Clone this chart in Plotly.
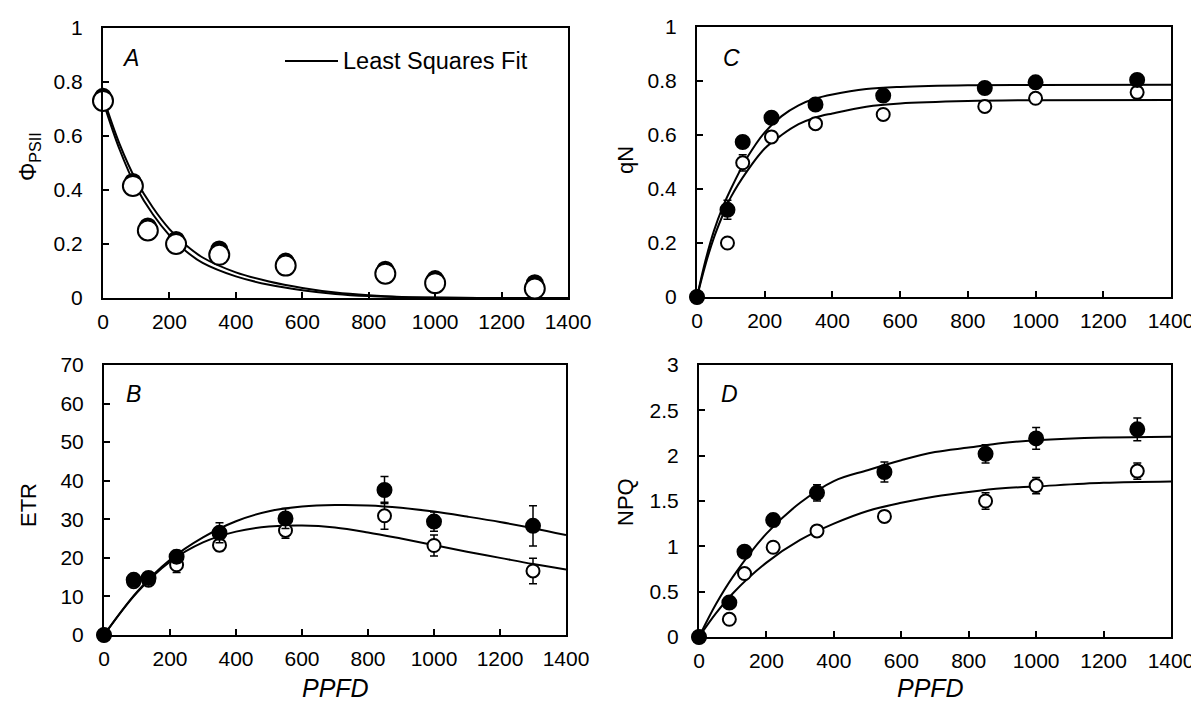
import plotly.graph_objects as go

# ---------------- data ----------------
ppfd = [0, 90, 135, 220, 350, 550, 850, 1000, 1300]

# Panel A: PhiPSII
phi_filled = [0.745, 0.43, 0.265, 0.215, 0.18, 0.135, 0.105, 0.07, 0.055]
phi_open = [0.73, 0.415, 0.25, 0.20, 0.16, 0.12, 0.09, 0.055, 0.035]
fit_x = [0, 50, 100, 150, 200, 250, 300, 400, 500, 600, 700, 800, 900, 1000, 1200, 1400]
phi_fit_filled = [0.745, 0.57, 0.435, 0.335, 0.255, 0.195, 0.15, 0.095, 0.061, 0.037, 0.020, 0.010, 0.004, 0.0015, 0.0, 0.0]
phi_fit_open = [0.73, 0.55, 0.41, 0.31, 0.232, 0.173, 0.13, 0.080, 0.049, 0.029, 0.015, 0.007, 0.003, 0.001, 0.0, 0.0]

# Panel B: ETR
etr_filled = [0, 14.3, 14.8, 20.3, 26.5, 30.2, 37.6, 29.4, 28.3]
etr_filled_err = [0, 1.0, 1.0, 1.6, 2.6, 2.6, 3.5, 2.5, 5.2]
etr_open = [0, 13.8, 14.2, 18.2, 23.3, 27.1, 30.9, 23.2, 16.6]
etr_open_err = [0, 1.0, 1.0, 2.0, 1.5, 2.0, 3.5, 2.7, 3.3]
fit_x2 = [0, 100, 200, 300, 400, 500, 600, 700, 800, 900, 1000, 1100, 1200, 1300, 1400]
etr_fit_filled = [0, 11.2, 19.5, 25.3, 29.5, 32.1, 33.3, 33.7, 33.6, 33.0, 32.0, 30.7, 29.3, 27.7, 25.9]
etr_fit_open = [0, 11.0, 19.0, 24.0, 26.8, 28.1, 28.4, 27.9, 26.6, 25.0, 23.3, 21.6, 20.0, 18.4, 17.0]

# Panel C: qN
qn_filled = [0, 0.323, 0.574, 0.664, 0.713, 0.746, 0.774, 0.795, 0.804]
qn_filled_err = [0, 0.035, 0.02, 0.02, 0.02, 0.02, 0.015, 0.015, 0.015]
qn_open = [0, 0.20, 0.497, 0.593, 0.642, 0.676, 0.706, 0.736, 0.758]
qn_open_err = [0, 0.015, 0.03, 0.02, 0.015, 0.02, 0.015, 0.015, 0.02]
fit_x3 = [0, 25, 50, 75, 100, 150, 200, 250, 300, 350, 400, 500, 600, 800, 1000, 1400]
qn_fit_filled = [0, 0.135, 0.245, 0.33, 0.40, 0.52, 0.61, 0.67, 0.71, 0.735, 0.75, 0.77, 0.778, 0.784, 0.785, 0.786]
qn_fit_open = [0, 0.12, 0.22, 0.30, 0.37, 0.47, 0.55, 0.60, 0.64, 0.665, 0.68, 0.705, 0.717, 0.726, 0.729, 0.73]

# Panel D: NPQ
npq_filled = [0, 0.38, 0.94, 1.29, 1.59, 1.82, 2.02, 2.19, 2.29]
npq_filled_err = [0, 0.05, 0.05, 0.07, 0.09, 0.11, 0.10, 0.12, 0.125]
npq_open = [0, 0.195, 0.70, 0.99, 1.17, 1.33, 1.50, 1.67, 1.83]
npq_open_err = [0, 0.03, 0.04, 0.05, 0.05, 0.06, 0.09, 0.09, 0.09]
fit_x4 = [0, 50, 100, 200, 300, 400, 500, 600, 700, 800, 900, 1000, 1200, 1400]
npq_fit_filled = [0, 0.36, 0.66, 1.14, 1.48, 1.72, 1.84, 1.95, 2.04, 2.09, 2.14, 2.17, 2.20, 2.21]
npq_fit_open = [0, 0.26, 0.48, 0.82, 1.07, 1.25, 1.39, 1.48, 1.55, 1.60, 1.64, 1.66, 1.70, 1.715]

# ---------------- figure ----------------
fig = go.Figure()
OFF = 8                      # page body margin in the browser
W, H = 1199 - OFF, 704 - OFF  # figure size so it fits the window

def line_trace(x, y, xa, ya):
    return go.Scatter(x=x, y=y, mode="lines", line=dict(color="black", width=2, shape="spline"),
                      xaxis=xa, yaxis=ya, showlegend=False, hoverinfo="skip", cliponaxis=False)

def pts(x, y, err, filled, size, xa, ya):
    m = dict(size=size, color="black" if filled else "white",
             line=dict(color="black", width=2))
    t = go.Scatter(x=x, y=y, mode="markers", marker=m, xaxis=xa, yaxis=ya,
                   showlegend=False, cliponaxis=False)
    if err is not None:
        t.error_y = dict(type="data", array=err, visible=True, color="black", thickness=1.5, width=4)
    return t

# Panel A (x, y)
fig.add_trace(line_trace(fit_x, phi_fit_filled, "x", "y"))
fig.add_trace(line_trace(fit_x, phi_fit_open, "x", "y"))
fig.add_trace(pts(ppfd, phi_filled, None, True, 16, "x", "y"))
fig.add_trace(pts(ppfd, phi_open, None, False, 20, "x", "y"))

# Panel B (x2, y2)
fig.add_trace(line_trace(fit_x2, etr_fit_filled, "x2", "y2"))
fig.add_trace(line_trace(fit_x2, etr_fit_open, "x2", "y2"))
fig.add_trace(pts(ppfd, etr_open, etr_open_err, False, 13, "x2", "y2"))
fig.add_trace(pts(ppfd, etr_filled, etr_filled_err, True, 14, "x2", "y2"))

# Panel C (x3, y3)
fig.add_trace(line_trace(fit_x3, qn_fit_filled, "x3", "y3"))
fig.add_trace(line_trace(fit_x3, qn_fit_open, "x3", "y3"))
fig.add_trace(pts(ppfd, qn_open, qn_open_err, False, 13, "x3", "y3"))
fig.add_trace(pts(ppfd, qn_filled, qn_filled_err, True, 14, "x3", "y3"))

# Panel D (x4, y4)
fig.add_trace(line_trace(fit_x4, npq_fit_filled, "x4", "y4"))
fig.add_trace(line_trace(fit_x4, npq_fit_open, "x4", "y4"))
fig.add_trace(pts(ppfd, npq_open, npq_open_err, False, 13, "x4", "y4"))
fig.add_trace(pts(ppfd, npq_filled, npq_filled_err, True, 14, "x4", "y4"))

FONT = "Liberation Sans, Arial, sans-serif"
TICKSIZE = 21

def xax(domain, anchor):
    return dict(domain=domain, anchor=anchor, range=[0, 1400], dtick=200, tick0=0,
                showline=True, mirror=True, linecolor="black", linewidth=2,
                ticks="inside", ticklen=6, tickwidth=1.5, tickcolor="black",
                showgrid=False, zeroline=False, ticklabelstandoff=4, automargin=False,
                tickfont=dict(size=TICKSIZE, family=FONT, color="black"))

def yax(domain, anchor, rng, dt):
    return dict(domain=domain, anchor=anchor, range=rng, dtick=dt, tick0=0,
                showline=True, mirror=True, linecolor="black", linewidth=2,
                ticks="inside", ticklen=6, tickwidth=1.5, tickcolor="black",
                showgrid=False, zeroline=False, ticklabelstandoff=14, automargin=False,
                tickfont=dict(size=TICKSIZE, family=FONT, color="black"))

def fx(px):
    return (px - OFF) / W

def fy(py):
    return 1 - (py - OFF) / H

def px_x(a, b):
    return [fx(a), fx(b)]

def px_y(top, bottom):
    return [fy(bottom), fy(top)]

fig.update_layout(
    width=W, height=H,
    margin=dict(l=0, r=0, t=0, b=0, autoexpand=False),
    paper_bgcolor="white", plot_bgcolor="white",
    showlegend=False,
    xaxis=xax(px_x(103, 568), "y"),
    yaxis=yax(px_y(28, 298), "x", [0, 1], 0.2),
    xaxis2=xax(px_x(104, 566), "y2"),
    yaxis2=yax(px_y(365, 635), "x2", [0, 70], 10),
    xaxis3=xax(px_x(697, 1171), "y3"),
    yaxis3=yax(px_y(27, 297), "x3", [0, 1], 0.2),
    xaxis4=xax(px_x(699, 1171), "y4"),
    yaxis4=yax(px_y(365, 637), "x4", [0, 3], 0.5),
)

def ann(text, x, y, size=21, angle=0, italic=False):
    t = f"<i>{text}</i>" if italic else text
    fig.add_annotation(text=t, x=fx(x), y=fy(y), xref="paper", yref="paper",
                       showarrow=False, textangle=angle,
                       font=dict(size=size, family=FONT, color="black"),
                       xanchor="center", yanchor="middle")

# panel letters
ann("A", 130, 58, size=23, italic=True)
ann("B", 133, 394, size=23, italic=True)
ann("C", 731, 58, size=23, italic=True)
ann("D", 729, 394, size=23, italic=True)

# axis titles
ann("Φ<sub>PSII</sub>", 30, 157, size=23, angle=-90)
ann("ETR", 28, 505, size=22, angle=-90)
ann("qN", 625, 160, size=22, angle=-90)
ann("NPQ", 625, 502, size=22, angle=-90)
ann("PPFD", 335, 688, size=25, italic=True)
ann("PPFD", 930, 688, size=25, italic=True)

# legend in panel A
fig.add_shape(type="line", xref="paper", yref="paper",
              x0=fx(285), x1=fx(338), y0=fy(61), y1=fy(61),
              line=dict(color="black", width=2))
fig.add_annotation(text="Least Squares Fit", x=fx(341), y=fy(61), xref="paper", yref="paper",
                   showarrow=False, xanchor="left", yanchor="middle",
                   font=dict(size=23.5, family=FONT, color="black"))

fig.write_html("out.html")
